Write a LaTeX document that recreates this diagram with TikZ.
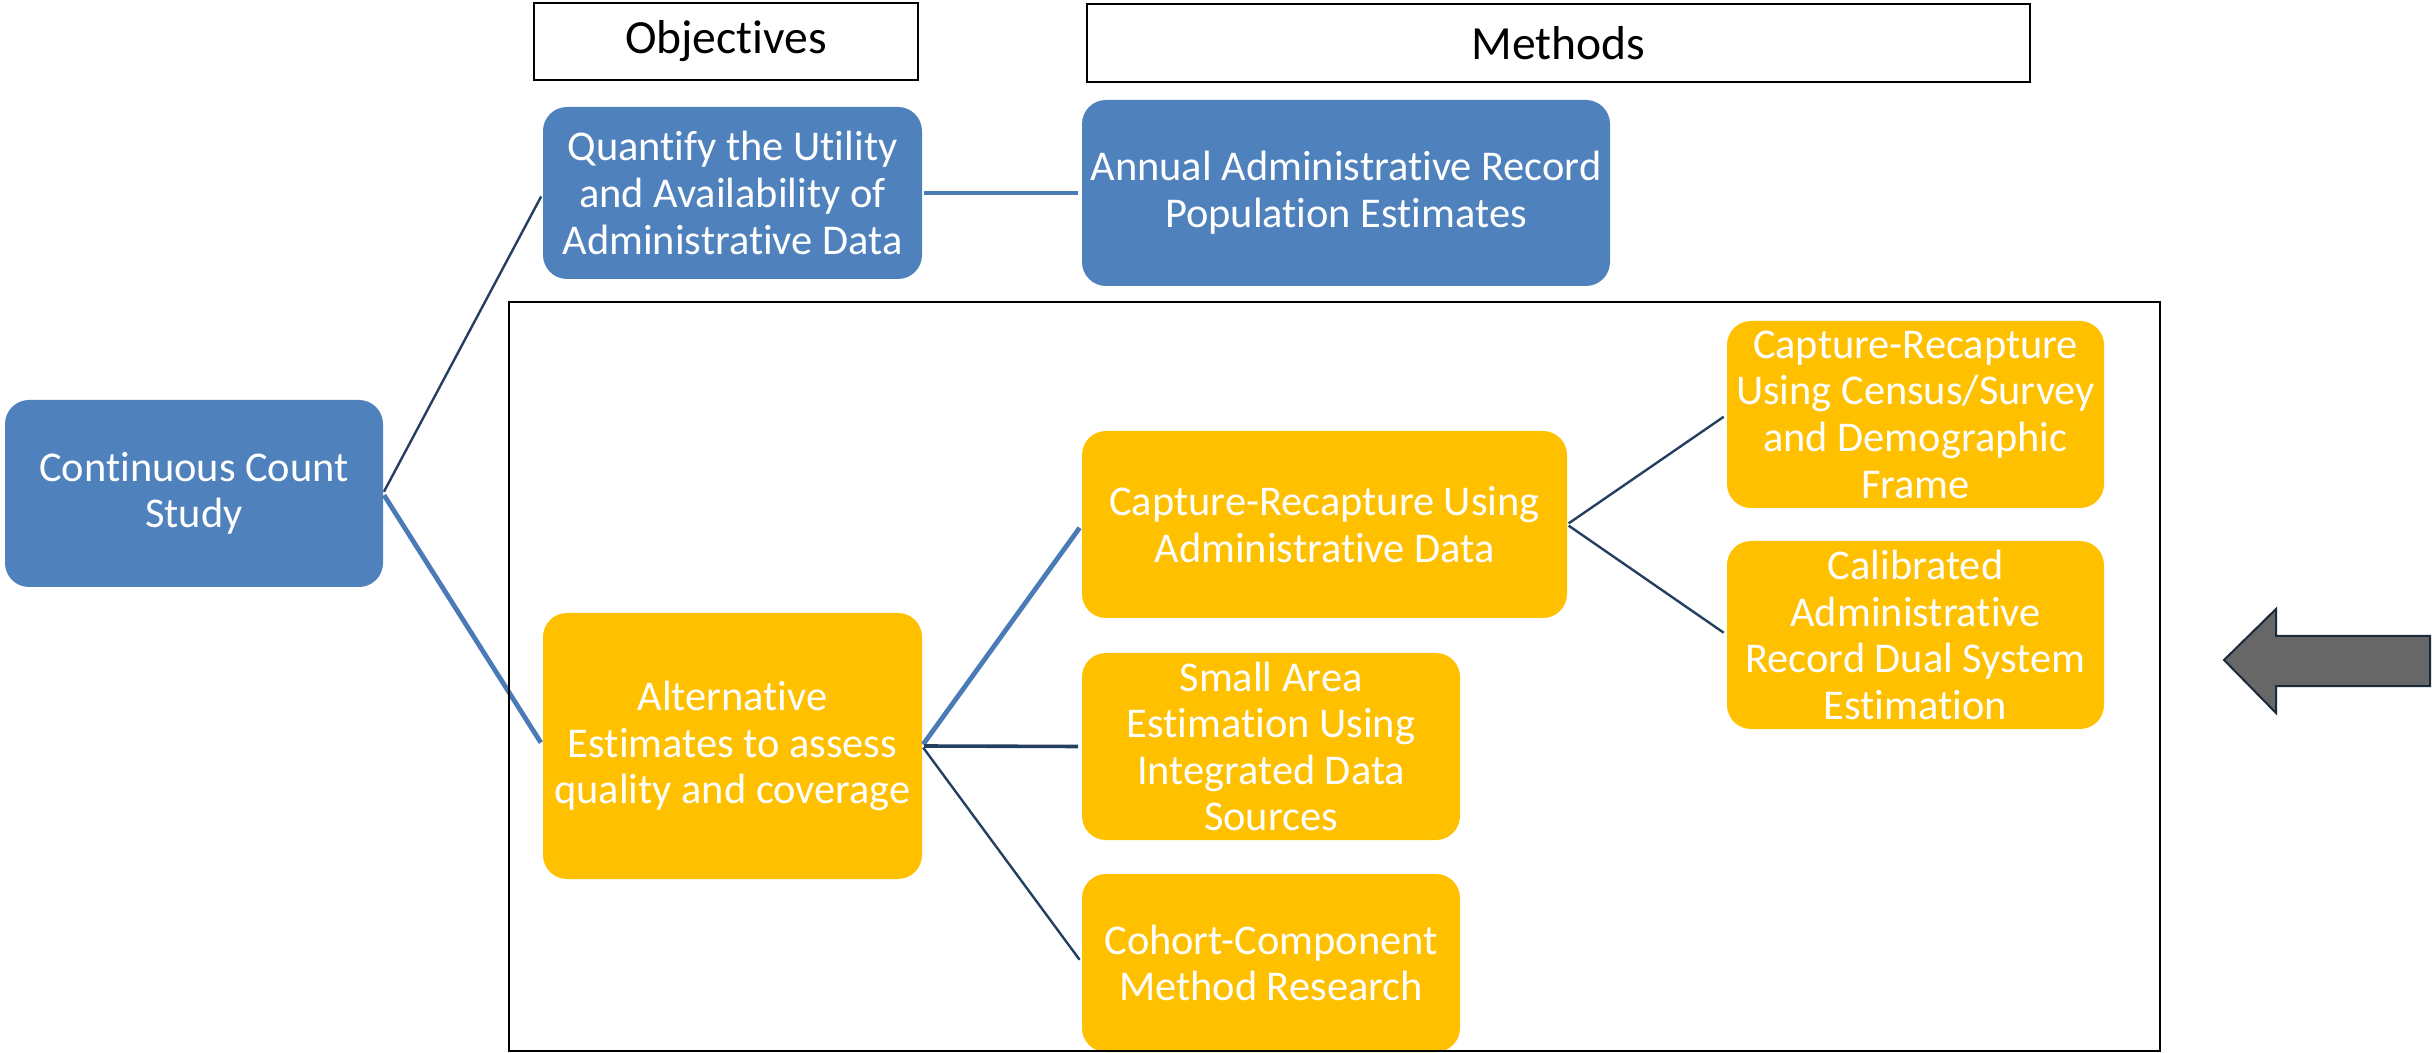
\documentclass[tikz,border=0pt]{standalone}
\usepackage{fontspec}
\setmainfont{Carlito}[Ligatures=NoCommon]
\definecolor{boxblue}{HTML}{4F81BD}
\definecolor{boxgold}{HTML}{FFC000}
\definecolor{thickblue}{HTML}{4A7BB7}
\definecolor{thinnavy}{HTML}{243F60}
\definecolor{arrowgray}{HTML}{676767}
\definecolor{arrowedge}{HTML}{1B2A3A}
\tikzset{
  box/.style={rounded corners=12pt, inner sep=0pt, outer sep=0pt, align=center,
    text=white, font=\fontsize{21.2}{23.3}\selectfont},
  bluebox/.style={box, fill=boxblue},
  goldbox/.style={box, fill=boxgold},
  titlebox/.style={draw=black, line width=1pt, inner sep=0pt, outer sep=0pt,
    font=\fontsize{23.8}{27}\selectfont},
  thinconn/.style={draw=thinnavy, line width=1.2pt, shorten <=1pt, shorten >=2pt},
  midconn/.style={draw=thinnavy, line width=1.8pt, shorten <=1pt, shorten >=2pt},
  thickconn/.style={draw=thickblue, line width=2.4pt, shorten <=1pt, shorten >=2pt},
  framebox/.style={draw=black, line width=1pt}
}
\begin{document}
\begin{tikzpicture}[x=0.5pt, y=-0.5pt]
\useasboundingbox (0,0) rectangle (2433,1053);
% title boxes
\node[titlebox, minimum width=192pt, minimum height=38.5pt] (obj) at (726,41.5) {Objectives};
\node[titlebox, minimum width=471.5pt, minimum height=39pt] (meth) at (1558.5,43) {Methods};
% boxes
\node[bluebox, minimum width=189pt, minimum height=93.5pt] (cc) at (194,493.5) {Continuous Count\\Study};
\node[bluebox, minimum width=189.5pt, minimum height=86pt] (quant) at (732.5,193) {Quantify the Utility\\and Availability of\\Administrative Data};
\node[bluebox, minimum width=264pt, minimum height=93pt] (annual) at (1346,193) {Annual Administrative Record\\Population Estimates};
\node[goldbox, minimum width=189.5pt, minimum height=133pt] (alt) at (732.5,746) {Alternative\\Estimates to assess\\quality and coverage};
\node[goldbox, minimum width=242.5pt, minimum height=93.5pt] (cradmin) at (1324.5,524.5) {Capture-Recapture Using\\Administrative Data};
\node[goldbox, minimum width=189pt, minimum height=93.5pt] (small) at (1271,746.5) {Small Area\\Estimation Using\\Integrated Data\\Sources};
\node[goldbox, minimum width=189pt, minimum height=89pt] (cohort) at (1271,963) {Cohort-Component\\Method Research};
\node[goldbox, minimum width=188.5pt, minimum height=93.5pt] (crcensus) at (1915.5,414.5) {Capture-Recapture\\Using Census/Survey\\and Demographic\\Frame};
\node[goldbox, minimum width=188.5pt, minimum height=94pt] (calib) at (1915.5,635) {Calibrated\\Administrative\\Record Dual System\\Estimation};
% connectors
\draw[thinconn] (cc.east) -- (quant.west);
\draw[thickconn] (cc.east) -- (alt.west);
\draw[thickconn] (quant.east) -- (annual.west);
\draw[thickconn] (alt.east) -- (cradmin.west);
\draw[midconn] (alt.east) -- (small.west);
\draw[thinconn] (alt.east) -- (cohort.west);
\draw[thinconn] (cradmin.east) -- (crcensus.west);
\draw[thinconn] (cradmin.east) -- (calib.west);
% frame around alternative estimates
\draw[framebox] (509,302) rectangle (2160,1051);
% block arrow
\draw[fill=arrowgray, draw=arrowedge, line width=1pt, line join=miter]
  (2224,660) -- (2276,609) -- (2276,636) -- (2430,636) -- (2430,686)
  -- (2276,686) -- (2276,713) -- cycle;
\end{tikzpicture}
\end{document}
